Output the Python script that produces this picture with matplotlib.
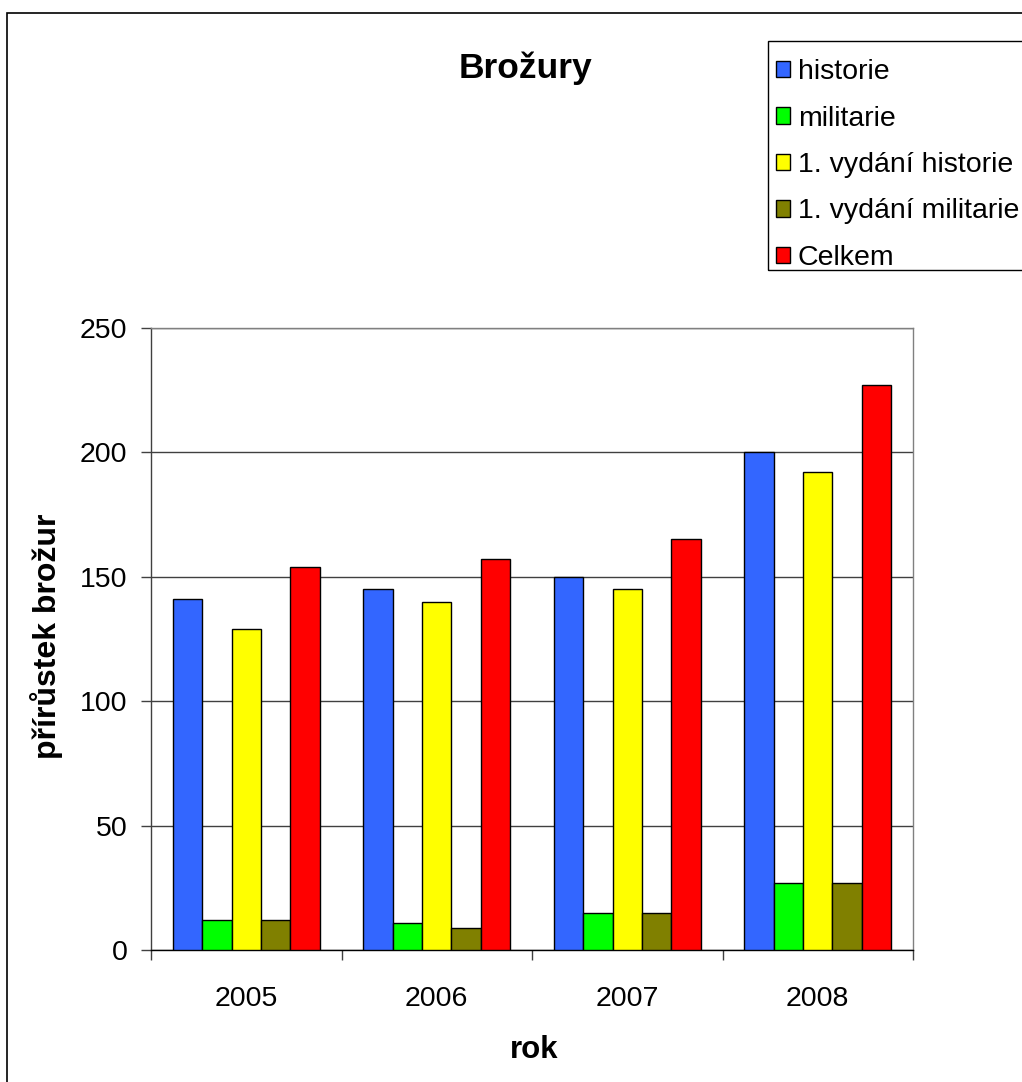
import matplotlib
matplotlib.use("Agg")
import matplotlib.pyplot as plt
import numpy as np
from matplotlib.patches import Rectangle
from matplotlib.ticker import FixedLocator

plt.rcParams['font.family'] = ['Liberation Sans', 'DejaVu Sans']

years = ['2005', '2006', '2007', '2008']
series_names = ['historie', 'militarie', '1. vydání historie', '1. vydání militarie', 'Celkem']
historie = [141, 145, 150, 200]
militarie = [12, 11, 15, 27]
vydani_historie = [129, 140, 145, 192]
vydani_militarie = [12, 9, 15, 27]
celkem = [154, 157, 165, 227]
colors = ['#3366FF', '#00FF00', '#FFFF00', '#808000', '#FF0000']

series = [historie, militarie, vydani_historie, vydani_militarie, celkem]

W, H = 1022, 1082
fig = plt.figure(figsize=(W / 100, H / 100), dpi=100)
ax = fig.add_axes([151 / W, 1 - 950 / H, (913 - 151) / W, (950 - 328) / H])

x = np.arange(len(years))
w = 1 / 6.5
handles = []
for i, (vals, c, name) in enumerate(zip(series, colors, series_names)):
    b = ax.bar(x + (i - 2) * w, vals, width=w, color=c, edgecolor='black',
               linewidth=1.0, label=name, zorder=3)
    handles.append(b)

ax.set_xlim(-0.5, 3.5)
ax.set_ylim(0, 250)
ax.set_yticks([0, 50, 100, 150, 200, 250])
ax.yaxis.grid(True, color='#404040', linewidth=1.0, zorder=0)
ax.set_axisbelow(True)

ax.set_xticks(x)
ax.set_xticklabels(years, fontsize=20.5)
ax.xaxis.set_minor_locator(FixedLocator([-0.5, 0.5, 1.5, 2.5, 3.5]))
ax.tick_params(axis='x', which='major', length=0, pad=26)
ax.tick_params(axis='x', which='minor', length=7, width=1, color='#404040', direction='out')
ax.tick_params(axis='y', which='major', length=7, width=1, color='#404040', direction='out',
               labelsize=20.5, pad=10)

ax.spines['left'].set_color('#404040')
ax.spines['bottom'].set_color('black')
ax.spines['top'].set_color('#808080')
ax.spines['right'].set_color('#808080')
for s in ax.spines.values():
    s.set_linewidth(1.0)

fig.text(525 / W, 1 - 68 / H, 'Brožury', fontsize=25.5, fontweight='bold',
         ha='center', va='center')
fig.text(534 / W, 1 - 1050 / H, 'rok', fontsize=22.5, fontweight='bold',
         ha='center', va='center')
fig.text(47 / W, 1 - 636 / H, 'přírůstek brožur', fontsize=23, fontweight='bold',
         ha='center', va='center', rotation=90)

leg = fig.legend(handles=handles, labels=series_names, loc='upper left',
                 bbox_to_anchor=(776 / W, 1 - 59 / H), fontsize=20.5,
                 frameon=False,
                 handlelength=0.5, handleheight=0.5, handletextpad=0.27,
                 labelspacing=0.72, borderpad=0, borderaxespad=0)

# legend frame (extends past the right edge, as in the reference)
fig.add_artist(Rectangle((768 / W, 1 - 270 / H), 0.5, (270 - 41) / H,
                         transform=fig.transFigure, fill=False,
                         edgecolor='black', linewidth=1.0, zorder=0))

# outer chart-area border (cropped on right and bottom)
fig.add_artist(Rectangle((7 / W, -0.1), 1.2, 1.1 - 13 / H, transform=fig.transFigure,
                         fill=False, edgecolor='black', linewidth=1.2))

fig.savefig('out.png', dpi=100)
